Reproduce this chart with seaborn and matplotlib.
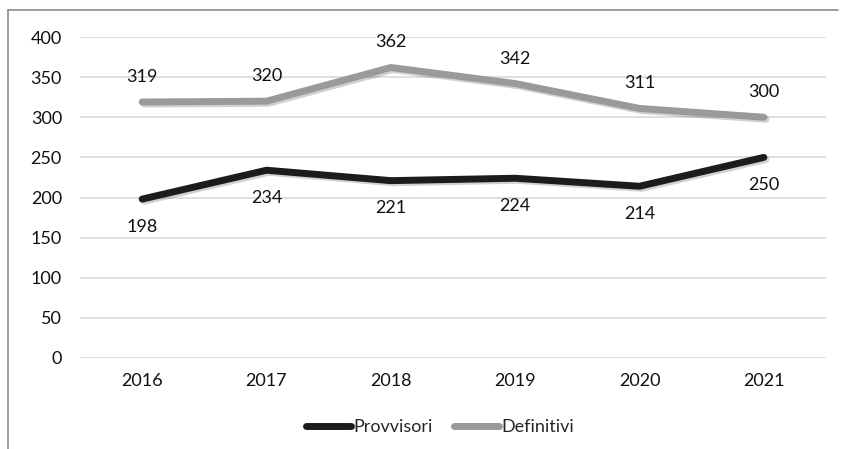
import matplotlib
matplotlib.use("Agg")
import matplotlib.pyplot as plt
import matplotlib.patheffects as pe
from matplotlib.lines import Line2D
import seaborn as sns
import pandas as pd

years = ["2016", "2017", "2018", "2019", "2020", "2021"]
provvisori = [198, 234, 221, 224, 214, 250]
definitivi = [319, 320, 362, 342, 311, 300]
yticks = [0, 50, 100, 150, 200, 250, 300, 350, 400]

df = pd.DataFrame({
    "Anno": years * 2,
    "Valore": provvisori + definitivi,
    "Serie": ["Provvisori"] * len(years) + ["Definitivi"] * len(years),
})

sns.set_theme(style="white")
plt.rcParams["font.family"] = ["Lato", "DejaVu Sans"]

FS = 13
TXT = "#111111"

fig = plt.figure(figsize=(8.47, 4.49), dpi=100)
ax = fig.add_axes([80 / 847, 1 - 358 / 449, (826 - 80) / 847, (358 - 37) / 449])

palette = {"Provvisori": "#1c1c1c", "Definitivi": "#9a9a9a"}
shadow = [pe.SimpleLineShadow(offset=(1.5, -1.5), shadow_color="#000000", alpha=0.18), pe.Normal()]

sns.lineplot(data=df, x="Anno", y="Valore", hue="Serie", palette=palette,
             linewidth=5, ax=ax, legend=False, sort=False,
             path_effects=shadow, solid_capstyle="round", solid_joinstyle="round")

ax.set_xlim(-0.5, len(years) - 0.5)
ax.set_ylim(0, 400)
ax.set_yticks(yticks)
ax.yaxis.grid(True, color="#d9d9d9", linewidth=1.2)
ax.set_axisbelow(True)
for s in ax.spines.values():
    s.set_visible(False)
ax.tick_params(axis="both", length=0, labelsize=FS, colors=TXT)
ax.tick_params(axis="y", pad=13)
ax.tick_params(axis="x", pad=11)
ax.set_xlabel("")
ax.set_ylabel("")

for i, v in enumerate(definitivi):
    ax.annotate(str(v), (i, v), xytext=(0, 18), textcoords="offset points",
                ha="center", va="center", fontsize=FS, color=TXT)
for i, v in enumerate(provvisori):
    ax.annotate(str(v), (i, v), xytext=(0, -20), textcoords="offset points",
                ha="center", va="center", fontsize=FS, color=TXT)

handles = [Line2D([0], [0], color=palette["Provvisori"], linewidth=5, solid_capstyle="round"),
           Line2D([0], [0], color=palette["Definitivi"], linewidth=5, solid_capstyle="round")]
fig.legend(handles, ["Provvisori", "Definitivi"], loc="center", bbox_to_anchor=(440 / 847, 1 - 427 / 449),
           ncol=2, frameon=False, fontsize=FS, handlelength=2.5, handletextpad=0.15,
           columnspacing=1.15)

# outer frame: top and left edges
fig.add_artist(Line2D([8 / 847, 838 / 847], [1 - 10 / 449, 1 - 10 / 449], transform=fig.transFigure,
                      color="#8c8c8c", linewidth=1.2))
fig.add_artist(Line2D([8 / 847, 8 / 847], [1 - 10 / 449, 0], transform=fig.transFigure,
                      color="#8c8c8c", linewidth=1.2))

fig.savefig("out.png", dpi=100, facecolor="white")
